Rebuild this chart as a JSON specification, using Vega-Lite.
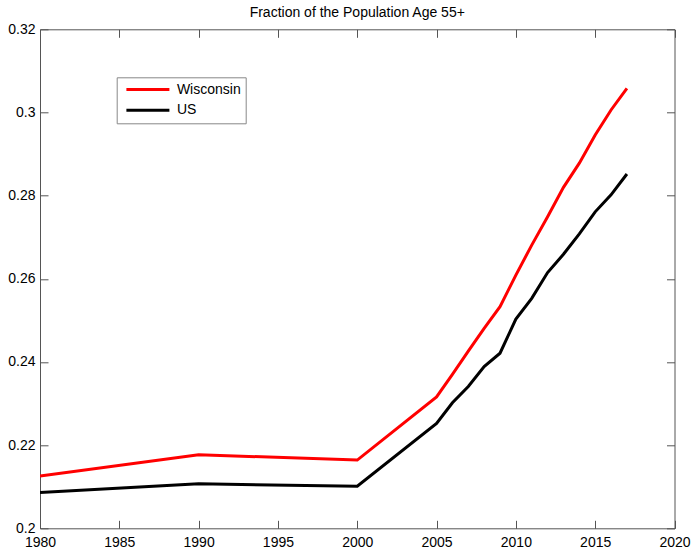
{
  "$schema": "https://vega.github.io/schema/vega-lite/v6.json",
  "width": 634.5,
  "height": 499,
  "autosize": {"type": "none"},
  "padding": {"left": 40, "top": 29.3, "right": 18.5, "bottom": 20.7},
  "background": "white",
  "title": {"text": "Fraction of the Population Age 55+", "font": "Liberation Sans", "fontSize": 14, "fontWeight": "normal", "color": "#000", "offset": 2, "anchor": "middle"},
  "config": {
    "view": {"stroke": null},
    "font": "Liberation Sans",
    "axis": {"grid": false, "domainColor": "#555", "tickColor": "#555", "labelColor": "#000", "labelFont": "Liberation Sans", "labelFontSize": 14, "title": null}
  },
  "data": {"values": [
    {"year": 1980, "value": 0.2126, "series": "Wisconsin"},
    {"year": 1990, "value": 0.2177, "series": "Wisconsin"},
    {"year": 2000, "value": 0.2164, "series": "Wisconsin"},
    {"year": 2005, "value": 0.2316, "series": "Wisconsin"},
    {"year": 2006, "value": 0.2370, "series": "Wisconsin"},
    {"year": 2007, "value": 0.2426, "series": "Wisconsin"},
    {"year": 2008, "value": 0.2481, "series": "Wisconsin"},
    {"year": 2009, "value": 0.2533, "series": "Wisconsin"},
    {"year": 2010, "value": 0.2609, "series": "Wisconsin"},
    {"year": 2011, "value": 0.2681, "series": "Wisconsin"},
    {"year": 2012, "value": 0.2749, "series": "Wisconsin"},
    {"year": 2013, "value": 0.2820, "series": "Wisconsin"},
    {"year": 2014, "value": 0.2878, "series": "Wisconsin"},
    {"year": 2015, "value": 0.2946, "series": "Wisconsin"},
    {"year": 2016, "value": 0.3006, "series": "Wisconsin"},
    {"year": 2017, "value": 0.3058, "series": "Wisconsin"},
    {"year": 1980, "value": 0.2086, "series": "US"},
    {"year": 1990, "value": 0.2107, "series": "US"},
    {"year": 2000, "value": 0.2101, "series": "US"},
    {"year": 2005, "value": 0.2252, "series": "US"},
    {"year": 2006, "value": 0.2302, "series": "US"},
    {"year": 2007, "value": 0.2341, "series": "US"},
    {"year": 2008, "value": 0.2389, "series": "US"},
    {"year": 2009, "value": 0.2421, "series": "US"},
    {"year": 2010, "value": 0.2503, "series": "US"},
    {"year": 2011, "value": 0.2553, "series": "US"},
    {"year": 2012, "value": 0.2615, "series": "US"},
    {"year": 2013, "value": 0.2659, "series": "US"},
    {"year": 2014, "value": 0.2708, "series": "US"},
    {"year": 2015, "value": 0.2761, "series": "US"},
    {"year": 2016, "value": 0.2802, "series": "US"},
    {"year": 2017, "value": 0.2852, "series": "US"}
  ]},
  "layer": [
    {
      "mark": {"type": "line", "strokeWidth": 3, "clip": true},
      "encoding": {
        "x": {"field": "year", "type": "quantitative", "scale": {"domain": [1980, 2020], "nice": false, "zero": false},
              "axis": {"orient": "bottom", "values": [1980,1985,1990,1995,2000,2005,2010,2015,2020], "format": "d", "tickSize": -8, "labelPadding": 15, "labelFlush": false, "labelOverlap": false}},
        "y": {"field": "value", "type": "quantitative", "scale": {"domain": [0.2, 0.32], "nice": false, "zero": false},
              "axis": {"orient": "left", "values": [0.2,0.22,0.24,0.26,0.28,0.3,0.32], "format": ".2~f", "tickSize": -8, "labelPadding": 13, "labelBaseline": "middle", "labelFlush": false, "labelOverlap": false}},
        "color": {"field": "series", "type": "nominal",
                  "scale": {"domain": ["Wisconsin", "US"], "range": ["#ff0000", "#000000"]},
                  "legend": {"title": null, "orient": "none", "legendX": 76.7, "legendY": 48, "symbolType": "stroke", "symbolSize": 1849, "symbolStrokeWidth": 3, "clipHeight": 16, "rowPadding": 4.7, "padding": 4.2, "symbolOffset": 4, "labelOffset": 6, "labelFontSize": 14, "labelFont": "Liberation Sans", "labelColor": "#000", "strokeColor": "#888", "fillColor": "white"}}
      }
    },
    {
      "mark": {"type": "line", "opacity": 0},
      "encoding": {
        "x": {"field": "year", "type": "quantitative", "axis": {"orient": "top", "values": [1980,1985,1990,1995,2000,2005,2010,2015,2020], "tickSize": -8, "labels": false}},
        "y": {"field": "value", "type": "quantitative", "axis": {"orient": "right", "values": [0.2,0.22,0.24,0.26,0.28,0.3,0.32], "tickSize": -8, "labels": false}},
        "detail": {"field": "series"}
      }
    }
  ],
  "resolve": {"axis": {"x": "independent", "y": "independent"}}
}
